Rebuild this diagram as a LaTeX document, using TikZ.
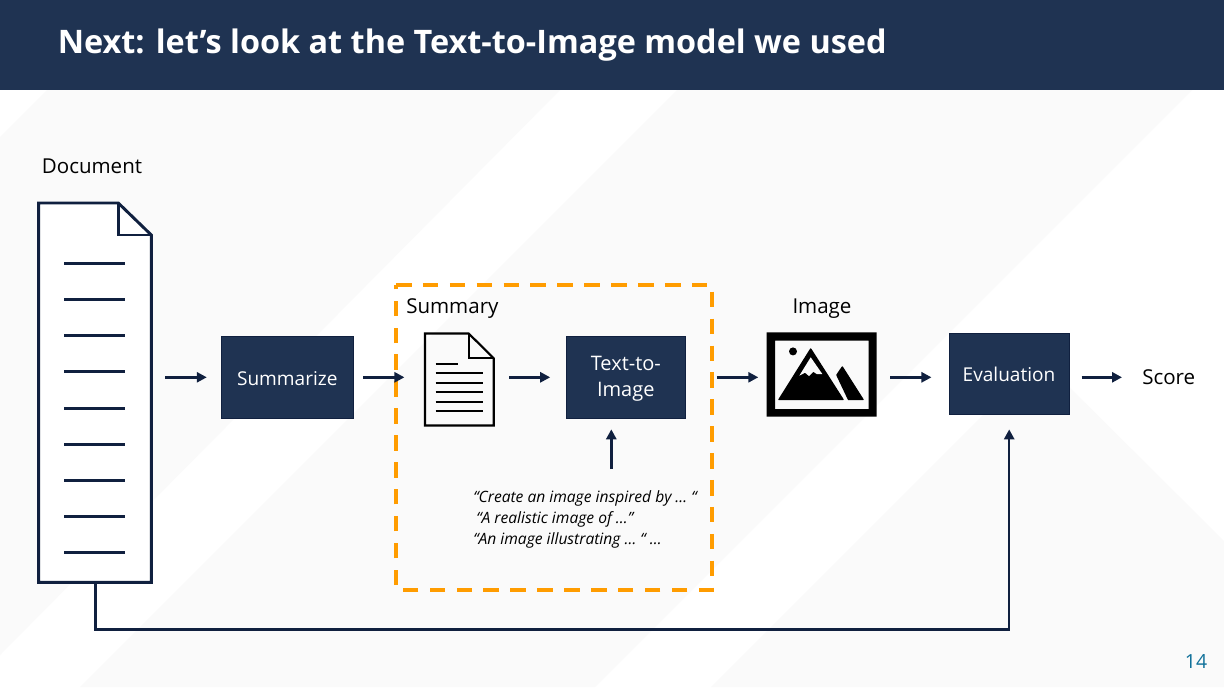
\documentclass[tikz,border=0pt]{standalone}
\usepackage{fontspec}
\usetikzlibrary{arrows.meta}
\setmainfont{Open Sans}
\definecolor{navy}{HTML}{1F3352}
\definecolor{ink}{HTML}{10203F}
\definecolor{band}{HTML}{FAFAFA}
\definecolor{dashorange}{HTML}{FF9C00}
\definecolor{pagenum}{HTML}{10719A}
\tikzset{
  px/.style={x=0.75pt,y=-0.75pt},
  flowbox/.style={draw=ink,line width=0.6pt,fill=navy,inner sep=0pt},
  boxtext/.style={anchor=base,text=white,inner sep=0pt,font=\fontsize{14.3}{19.5}\selectfont},
  lbl/.style={inner sep=0pt,text=black,font=\fontsize{15.4}{18}\selectfont},
  prompt/.style={anchor=base west,inner sep=0pt,text=black,font=\fontsize{11.7}{14}\selectfont\itshape},
  slot/.style={inner sep=0pt,outer sep=0pt},
  flow/.style={draw=ink,line width=1.9pt,-{Triangle[length=7.5pt,width=7.5pt]}},
  outline/.style={draw=ink,line width=2.2pt,line join=miter},
  docline/.style={draw=ink,line width=1.9pt},
  iconline/.style={draw=black,line width=1.6pt},
}
\begin{document}
\begin{tikzpicture}[px]
\useasboundingbox (0,0) rectangle (1224,687);
\fill[white] (0,0) rectangle (1224,687);
% background bands
\fill[band] (47,90) -- (560,90) -- (0,655) -- (0,137) -- cycle;
\fill[band] (677,90) -- (1192,90) -- (595,687) -- (80,687) -- cycle;
\fill[band] (1040,358) -- (1224,541) -- (1224,687) -- (711,687) -- cycle;
% title bar
\fill[navy] (0,0) rectangle (1224,90);
\node[anchor=base west,inner sep=0pt,text=white,font=\fontsize{24.3}{30}\selectfont\bfseries] (title) at (57.5,53) {Next: let’s look at the Text-to-Image model we used};

\coordinate (flowrow) at (0,377.3);
\coordinate (bus) at (0,629.5);
\coordinate (promptout) at (611.3,469);

% large document
\node[lbl,anchor=base] (doclabel) at (92,173.5) {Document};
\node[slot,minimum width=84.45pt,minimum height=284.7pt] (doc) at (95.5,392.65) {};
\draw[outline,fill=white] (38.7,203) -- (118.3,203) -- (151.3,235) -- (151.3,582.3) -- (38.7,582.3) -- cycle;
\draw[outline] (118.3,203) -- (118.3,235) -- (151.3,235);
\foreach \y in {263.4,299.4,335.4,371.4,408.3,444.3,480.3,516.3,552.3}
  \draw[docline] (64,\y) -- (125,\y);

% boxes
\node[flowbox,minimum width=99.3pt,minimum height=62pt] (summarize) at (287.4,377.3) {};
\node[boxtext] (summarizetext) at (287.3,385) {Summarize};
\node[flowbox,minimum width=89.6pt,minimum height=62pt] (t2i) at (625.8,377.3) {};
\node[boxtext,font=\fontsize{15}{19.5}\selectfont] (t2itexta) at (625.8,370.2) {Text-to-};
\node[boxtext,font=\fontsize{15}{19.5}\selectfont] (t2itextb) at (625.8,396.7) {Image};
\node[flowbox,minimum width=90.2pt,minimum height=61pt] (eval) at (1009.2,374) {};
\node[boxtext] (evaltext) at (1009,381) {Evaluation};

% summary frame
\draw[dashorange,line width=3pt,dash pattern=on 11.7pt off 8.47pt,line join=miter] (396,285) -- (712,285) -- (712,589.7) -- (396,589.7) -- cycle;
\node[lbl,anchor=base west] (summarylabel) at (406,313) {Summary};

% summary icon
\node[slot,minimum width=51.5pt,minimum height=69.5pt] (sumdoc) at (459.3,379.5) {};
\draw[iconline,line join=miter] (425,333.5) -- (468.7,333.5) -- (493.7,358.3) -- (493.7,425.5) -- (425,425.5) -- cycle;
\draw[iconline] (468.7,333.5) -- (468.7,358.3) -- (493.7,358.3);
\draw[iconline] (435.7,364) -- (458.3,364);
\foreach \y in {373.3,382.7,392.3,401.7,411}
  \draw[iconline] (435.7,\y) -- (483.3,\y);

% prompts
\node[prompt] (promptA) at (473,502.7) {“Create an image inspired by … “};
\node[prompt] (promptB) at (476,523.3) {“A realistic image of …”};
\node[prompt] (promptC) at (473,544) {“An image illustrating … “ …};

% image icon
\node[lbl,anchor=base] (imagelabel) at (822,313.5) {Image};
\node[slot,minimum width=82.5pt,minimum height=63.5pt] (imgicon) at (821.7,374.3) {};
\fill[black,even odd rule] (766.7,332.3) rectangle (876.7,416.7) (775,340.5) rectangle (868.7,409);
\fill[black] (793,351.4) circle[radius=4];
\filldraw[black,line width=1pt,line join=round] (810.7,349) -- (779,399.5) -- (843,399.5) -- cycle;
\fill[band] (810.7,357.3) -- (799.3,375.7) -- (805,372.7) -- (809,376) -- (813.3,371.7) -- (816.7,374) -- (822.3,374) -- cycle;
\filldraw[black,line width=1pt,line join=round] (842.3,367) -- (836.9,375) -- (848.5,399.5) -- (863,399.5) -- cycle;

\node[lbl,anchor=base west] (score) at (1142,384) {Score};
\node[anchor=base east,inner sep=0pt,text=pagenum,font=\fontsize{14.6}{17}\selectfont] (pageno) at (1207.5,668) {14};

% connectors
\draw[flow,shorten <=10.2pt,shorten >=10.5pt] (doc.east |- flowrow) -- (summarize.west |- flowrow);
\draw[flow,shorten <=7.1pt,shorten >=15.4pt] (summarize.east |- flowrow) -- (sumdoc.west |- flowrow);
\draw[flow,shorten <=11.6pt,shorten >=11.6pt] (sumdoc.east |- flowrow) -- (t2i.west |- flowrow);
\draw[flow,shorten <=23.2pt,shorten >=6.3pt] (t2i.east |- flowrow) -- (imgicon.west |- flowrow);
\draw[flow,shorten <=10.2pt,shorten >=12.9pt] (imgicon.east |- flowrow) -- (eval.west |- flowrow);
\draw[flow,shorten <=9pt,shorten >=15pt] (eval.east |- flowrow) -- (score.west |- flowrow);
\draw[flow,shorten >=7.7pt] (promptout) -- (promptout |- t2i.south);
\draw[flow,line join=miter,shorten >=10.7pt] (doc.south) -- (doc.south |- bus) -- (eval.south |- bus) -- (eval.south);
\end{tikzpicture}
\end{document}
